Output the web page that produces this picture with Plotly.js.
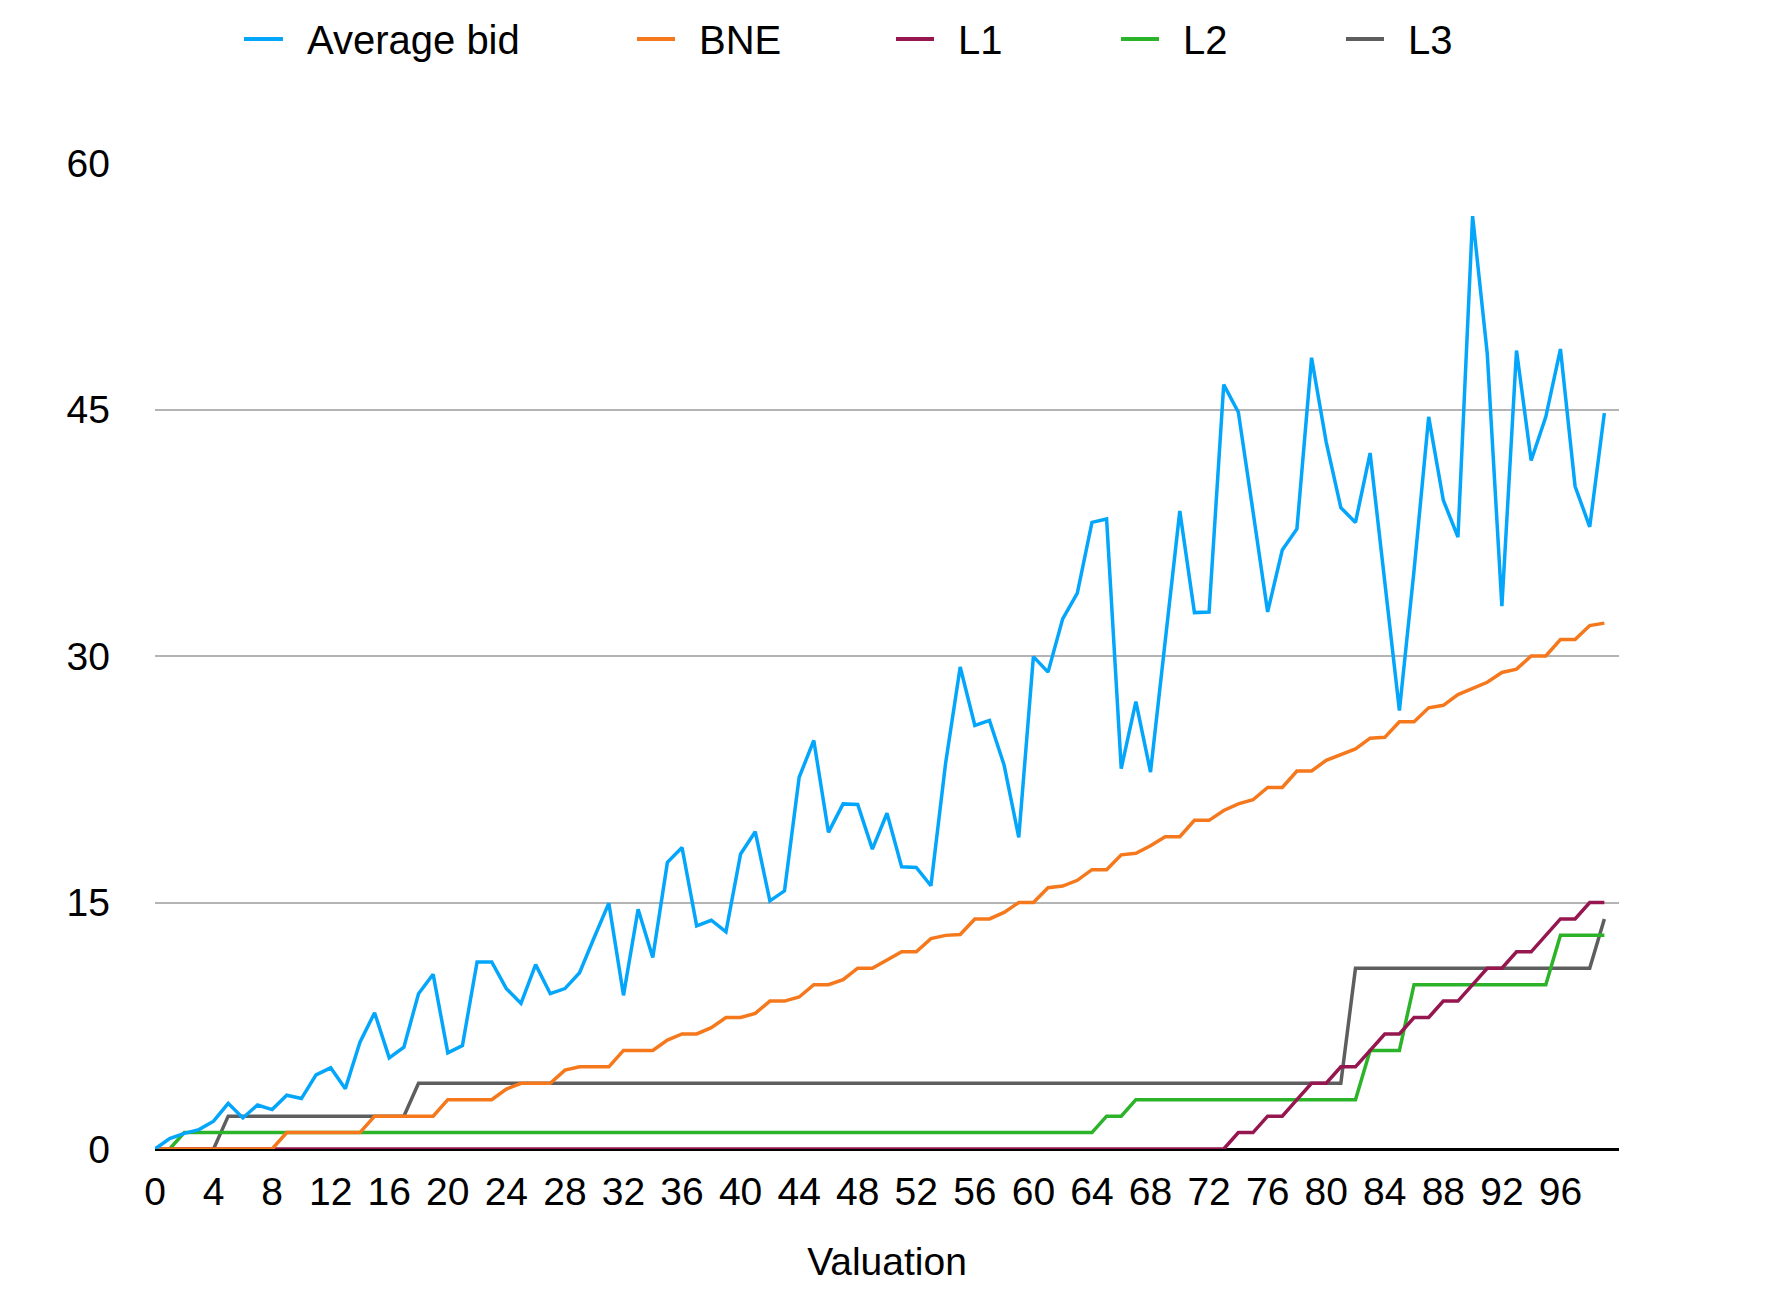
<!DOCTYPE html>
<html>
<head>
<meta charset="utf-8">
<script src="https://cdn.plot.ly/plotly-3.0.1.min.js"></script>
<style>
  html, body { margin: 0; padding: 0; background: #fff; }
  #chart { width: 1770px; height: 1312px; }
</style>
</head>
<body>
<div id="chart"></div>
<script>
// valuations 0..99 on the x axis
var valuation = [
  0, 1, 2, 3, 4, 5, 6, 7, 8, 9,
  10, 11, 12, 13, 14, 15, 16, 17, 18, 19,
  20, 21, 22, 23, 24, 25, 26, 27, 28, 29,
  30, 31, 32, 33, 34, 35, 36, 37, 38, 39,
  40, 41, 42, 43, 44, 45, 46, 47, 48, 49,
  50, 51, 52, 53, 54, 55, 56, 57, 58, 59,
  60, 61, 62, 63, 64, 65, 66, 67, 68, 69,
  70, 71, 72, 73, 74, 75, 76, 77, 78, 79,
  80, 81, 82, 83, 84, 85, 86, 87, 88, 89,
  90, 91, 92, 93, 94, 95, 96, 97, 98, 99
];

var averageBid = [
  0, 0.63, 0.95, 1.18, 1.69, 2.78, 1.89, 2.68, 2.40, 3.27,
  3.07, 4.51, 4.94, 3.66, 6.50, 8.29, 5.55, 6.20, 9.45, 10.63,
  5.85, 6.30, 11.38, 11.38, 9.76, 8.86, 11.22, 9.45, 9.76, 10.73,
  12.87, 14.96, 9.35, 14.59, 11.65, 17.44, 18.35, 13.58, 13.92, 13.21,
  17.95, 19.31, 15.10, 15.71, 22.62, 24.86, 19.27, 21.0, 20.96, 18.25,
  20.43, 17.17, 17.13, 16.02, 23.46, 29.33, 25.77, 26.08, 23.36, 18.96,
  29.96, 29.02, 32.26, 33.83, 38.13, 38.34, 23.15, 27.23, 22.94, 30.9,
  38.82, 32.64, 32.68, 46.51, 44.83, 38.8, 32.68, 36.45, 37.73, 48.15,
  43.02, 39.03, 38.13, 42.35, 34.5, 26.68, 35.2, 44.55, 39.48, 37.23,
  56.77, 48.41, 33.03, 48.59, 41.9, 44.55, 48.68, 40.33, 37.86, 44.78
];

var bne = [
  0, 0, 0, 0, 0, 0, 0, 0, 0, 1,
  1, 1, 1, 1, 1, 2, 2, 2, 2, 2,
  3, 3, 3, 3, 3.65, 4, 4, 4, 4.8, 5,
  5, 5, 6, 6, 6, 6.63, 7, 7, 7.38, 8,
  8, 8.25, 9, 9, 9.25, 10, 10, 10.3, 11, 11,
  11.5, 12, 12, 12.8, 13, 13.05, 14, 14, 14.4, 15,
  15, 15.9, 16, 16.35, 17, 17, 17.9, 18, 18.45, 19,
  19, 20, 20, 20.6, 21, 21.25, 22, 22, 23, 23,
  23.65, 24, 24.35, 25, 25.05, 26, 26, 26.85, 27, 27.65,
  28, 28.4, 29, 29.2, 30, 30, 31, 31, 31.85, 32
];

var l1 = [
  0, 0, 0, 0, 0, 0, 0, 0, 0, 0,
  0, 0, 0, 0, 0, 0, 0, 0, 0, 0,
  0, 0, 0, 0, 0, 0, 0, 0, 0, 0,
  0, 0, 0, 0, 0, 0, 0, 0, 0, 0,
  0, 0, 0, 0, 0, 0, 0, 0, 0, 0,
  0, 0, 0, 0, 0, 0, 0, 0, 0, 0,
  0, 0, 0, 0, 0, 0, 0, 0, 0, 0,
  0, 0, 0, 0, 1, 1, 2, 2, 3, 4,
  4, 5, 5, 6, 7, 7, 8, 8, 9, 9,
  10, 11, 11, 12, 12, 13, 14, 14, 15, 15
];

var l2 = [
  0, 0, 1, 1, 1, 1, 1, 1, 1, 1,
  1, 1, 1, 1, 1, 1, 1, 1, 1, 1,
  1, 1, 1, 1, 1, 1, 1, 1, 1, 1,
  1, 1, 1, 1, 1, 1, 1, 1, 1, 1,
  1, 1, 1, 1, 1, 1, 1, 1, 1, 1,
  1, 1, 1, 1, 1, 1, 1, 1, 1, 1,
  1, 1, 1, 1, 1, 2, 2, 3, 3, 3,
  3, 3, 3, 3, 3, 3, 3, 3, 3, 3,
  3, 3, 3, 6, 6, 6, 10, 10, 10, 10,
  10, 10, 10, 10, 10, 10, 13, 13, 13, 13
];

var l3 = [
  0, 0, 0, 0, 0, 2, 2, 2, 2, 2,
  2, 2, 2, 2, 2, 2, 2, 2, 4, 4,
  4, 4, 4, 4, 4, 4, 4, 4, 4, 4,
  4, 4, 4, 4, 4, 4, 4, 4, 4, 4,
  4, 4, 4, 4, 4, 4, 4, 4, 4, 4,
  4, 4, 4, 4, 4, 4, 4, 4, 4, 4,
  4, 4, 4, 4, 4, 4, 4, 4, 4, 4,
  4, 4, 4, 4, 4, 4, 4, 4, 4, 4,
  4, 4, 11, 11, 11, 11, 11, 11, 11, 11,
  11, 11, 11, 11, 11, 11, 11, 11, 11, 14
];

var xTicks = [0, 4, 8, 12, 16, 20, 24, 28, 32, 36, 40, 44, 48, 52, 56, 60, 64, 68, 72, 76, 80, 84, 88, 92, 96];
var yTicks = [0, 15, 30, 45, 60];

var seriesNames = ['Average bid', 'BNE', 'L1', 'L2', 'L3'];
var seriesValues = [averageBid, bne, l1, l2, l3];
var seriesColors = ['#04a6fb', '#f5781c', '#96174f', '#2bb32a', '#5e5e5e'];

var FONT = 'Liberation Sans, Helvetica, Arial, sans-serif';
var W = 1770, H = 1312;
var M = {l: 155, r: 151, t: 163, b: 163};

// legend placement, in pixels (sample line start, sample line end, text start)
var legendPx = [
  [244, 283, 305],
  [637, 675, 697],
  [896, 934, 956],
  [1121, 1159, 1181],
  [1346, 1384, 1406]
];
var legendY = 39;

function px2x(p) { return (p - M.l) / (W - M.l - M.r); }
function py2y(p) { return (H - M.b - p) / (H - M.t - M.b); }

// first series is drawn on top, so add traces back to front
var data = [];
for (var i = seriesNames.length - 1; i >= 0; i--) {
    data.push({
        x: valuation,
        y: seriesValues[i],
        name: seriesNames[i],
        type: 'scatter',
        mode: 'lines',
        line: {color: seriesColors[i], width: 3.5},
        hoverinfo: 'x+y+name'
    });
}

var shapes = [];
var annotations = [];
seriesNames.forEach(function (name, i) {
    var p = legendPx[i];
    shapes.push({
        type: 'line', xref: 'paper', yref: 'paper',
        x0: px2x(p[0]), x1: px2x(p[1]), y0: py2y(legendY), y1: py2y(legendY),
        line: {color: seriesColors[i], width: 4}
    });
    annotations.push({
        text: name, xref: 'paper', yref: 'paper',
        x: px2x(p[2]), y: py2y(legendY + 1),
        xanchor: 'left', yanchor: 'middle', showarrow: false,
        font: {family: FONT, size: 40, color: '#000'}
    });
});

var layout = {
    width: W,
    height: H,
    margin: M,
    paper_bgcolor: '#fff',
    plot_bgcolor: '#fff',
    showlegend: false,
    font: {family: FONT, size: 39, color: '#000'},
    xaxis: {
        range: [0, 100],
        tickvals: xTicks,
        ticktext: xTicks.map(String),
        showgrid: false,
        zeroline: false,
        showline: false,
        ticks: '',
        ticklabelstandoff: 16,
        tickfont: {family: FONT, size: 39, color: '#000'},
        title: {text: 'Valuation', font: {family: FONT, size: 39, color: '#000'}, standoff: 35},
        automargin: false
    },
    yaxis: {
        range: [0, 60],
        tickvals: yTicks,
        showgrid: true,
        gridcolor: '#b4b4b4',
        gridwidth: 2,
        zeroline: true,
        zerolinecolor: '#000',
        zerolinewidth: 3,
        showline: false,
        ticks: '',
        ticklabelstandoff: 44,
        tickfont: {family: FONT, size: 39, color: '#000'},
        automargin: false
    },
    shapes: shapes,
    annotations: annotations
};

Plotly.newPlot('chart', data, layout, {displayModeBar: false, staticPlot: true});
</script>
</body>
</html>
